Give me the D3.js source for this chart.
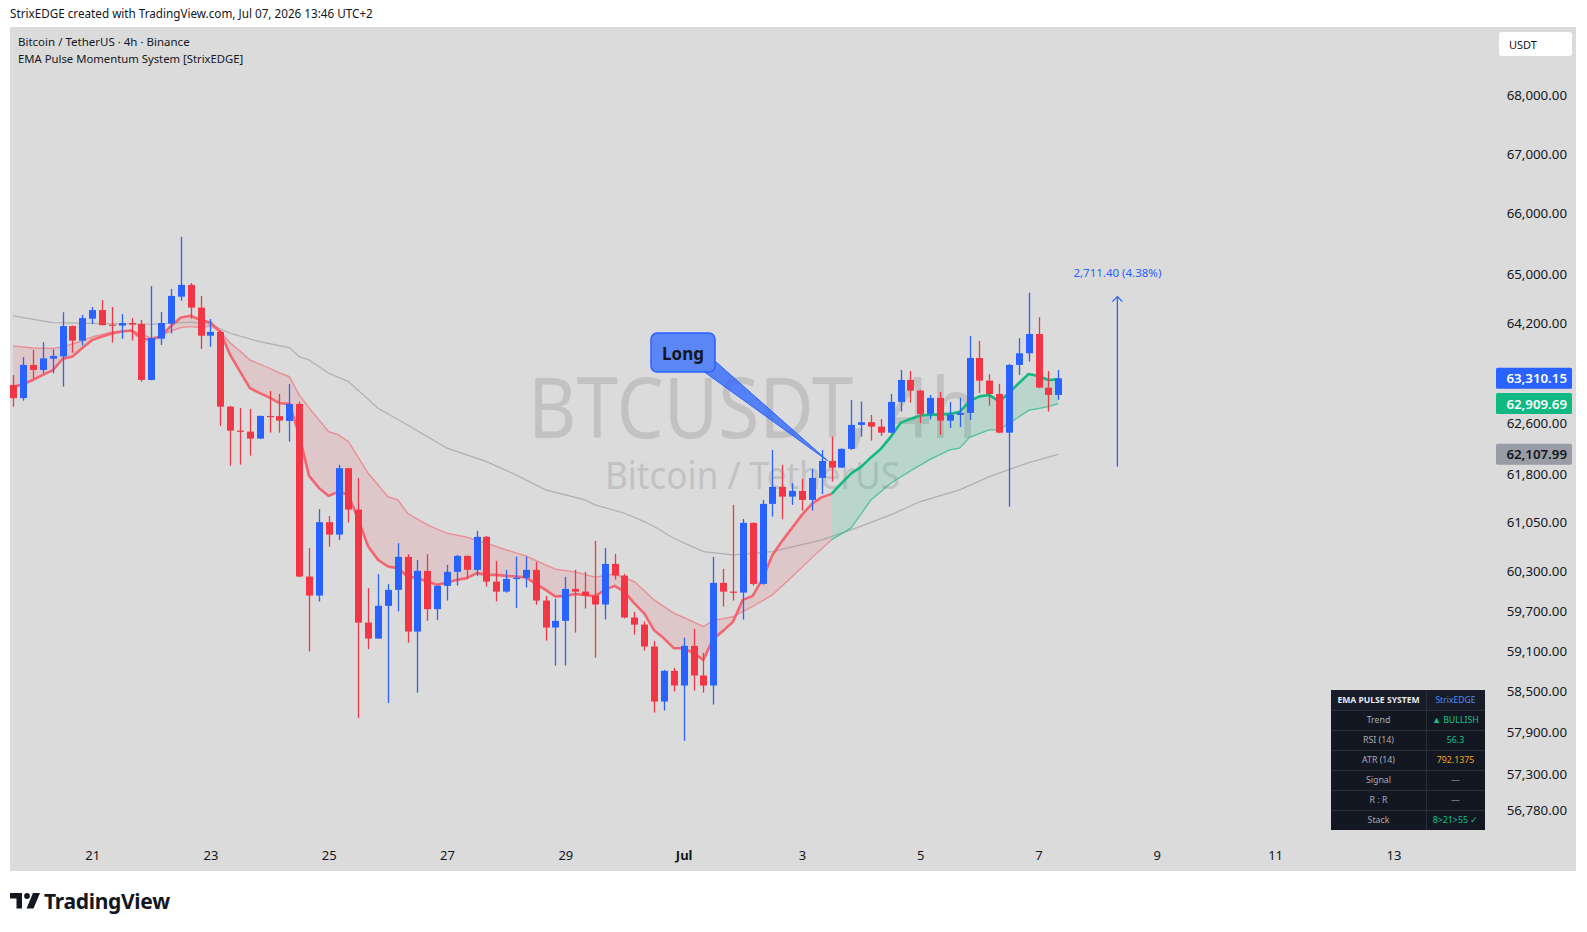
<!DOCTYPE html>
<html><head><meta charset="utf-8">
<script src="https://cdn.jsdelivr.net/npm/d3@7"></script>
<style>
html,body{margin:0;padding:0;background:#fff;}
svg{display:block;}
text{font-family:"Noto Sans",sans-serif;}
</style></head><body>
<svg id="c" width="1587" height="932"></svg>
<script>
// ---------------- DATA ----------------
const barStart = "2026-06-19T16:00:00Z"; // first 4h bar (UTC)
const open  = [63205,62995,63525,63445,63625,63660,64150,63915,64270,64410,64175,64158,64200,64185,63285,63947,64190,64628,64820,64450,63995,64056,62860,62481,62465,62355,62713,62710,62634,62903,60223,59935,61055,60864,61892,61249,59528,59289,59780,60021,60523,59394,60310,59730,60082,60295,60538,60325,60829,60147,59995,60188,60203,60325,59860,59454,59554,60036,59995,59935,59800,60416,60238,59604,59498,59170,58355,58808,58591,59180,58739,58591,60128,59995,59980,61044,60112,61337,61600,61450,61538,61399,61740,62005,61901,62194,62571,62614,62544,62449,62935,63285,63115,62745,62999,62639,62729,62761,63637,63274,63062,62449,63525,63712,64023,63162,63046];
const high  = [63365,63650,63765,63890,63775,64375,64160,64330,64460,64575,64460,64345,64280,64250,64800,64380,64755,65610,64850,64640,64265,64085,62872,62840,62824,62718,63110,63062,63221,62940,60656,61255,61152,61943,61898,61740,60047,60260,60108,60733,60564,60477,60564,60085,60401,60553,60545,60921,60844,60462,60325,60527,60527,60447,59930,59885,60219,60325,60295,60768,60661,60569,60264,59690,59544,59254,58823,58853,59303,59434,59075,60523,60340,61322,61105,61050,61399,62178,61943,61658,61725,61880,62178,62387,62200,62967,62940,62729,62666,63062,63445,63429,63126,63046,63094,62935,62999,63990,63910,63376,63221,63541,63953,64692,64294,63429,63445];
const low   = [62860,62955,63300,63390,63390,63180,63720,63835,64185,64160,63885,63945,63915,63258,63280,63845,64030,64563,64270,63780,63818,62555,61932,61948,62089,62350,62449,62449,62308,60215,59095,59845,60681,60783,61049,58111,59130,59285,58332,59695,59229,58487,59554,59565,59860,60087,60188,60234,60072,59845,59980,59745,60056,59795,59259,58886,58886,59379,59740,59005,59574,60178,59589,59349,59110,58193,58223,58502,57780,58517,58487,58311,59770,59860,59574,60087,60100,61141,61101,61322,61233,61233,61488,61683,61895,62175,62387,62324,62398,62440,62781,62924,62598,62658,62413,62523,62539,62650,63078,62876,62440,61295,63365,63578,63155,62781,62967];
const close = [62995,63525,63445,63630,63670,64150,63915,64280,64410,64165,64158,64200,64175,63285,63958,64200,64640,64820,64450,63995,64056,62860,62481,62465,62355,62713,62697,62639,62903,60223,59935,61055,60864,61892,61249,59528,59289,59780,60021,60523,59394,60310,59730,60082,60295,60538,60325,60829,60147,59995,60188,60203,60325,59860,59454,59554,60036,59995,59935,59800,60416,60238,59604,59498,59170,58355,58808,58591,59180,58739,58591,60128,59995,59980,61044,60112,61337,61600,61450,61538,61399,61740,62005,61901,62194,62571,62614,62544,62449,62935,63285,63115,62745,62999,62639,62729,62761,63637,63274,63062,62449,63525,63712,64023,63162,63046,63310.15];

// EMA 8 (fast), one value per bar
const emaFast = [63174,63221,63285,63365,63437,63621,63661,63797,63926,63982,64031,64064,64080,63950,63926,63991,64153,64290,64318,64247,64210,64056,63685,63418,63153,63074,63004,62915,62904,62413,61771,61585,61461,61528,61476,61090,60681,60477,60376,60351,60223,60199,60147,60097,60132,60173,60199,60275,60249,60249,60234,60223,60211,60112,60021,59920,59930,59960,59945,59923,60021,60082,59991,59818,59667,59415,59292,59145,59145,59071,58971,59284,59404,59539,59870,59930,60188,60553,60768,60967,61167,61337,61438,61492,61655,61810,61912,62060,62194,62382,62603,62666,62721,62729,62737,62745,62777,62943,63023,63046,62943,63078,63233,63381,63349,63285,63296];
// EMA 21 (slow), sampled bars
const emaSlowBar = [0,2,4,5,7,8,10,12,13,14,15,16,17,18,19,20,21,22,23,24,26,27,28,29,30,32,33,34,36,38,39,40,42,44,46,48,50,52,54,55,57,59,61,63,65,67,69,70,71,73,75,77,79,81,83,85,87,89,91,93,95,96,97,99,100,101,103,105,106];
const emaSlow    = [63830,63797,63792,63816,63910,63975,64056,64080,64023,63958,63999,64069,64124,64142,64121,64153,64061,63878,63749,63605,63472,63397,63338,63046,62840,62465,62413,62308,61813,61450,61399,61193,61013,60885,60824,60732,60630,60538,60401,60336,60295,60214,60264,60147,59870,59670,59539,59469,59559,59619,59770,59945,60219,60508,60783,60967,61399,61657,61849,62029,62178,62205,62374,62492,62492,62595,62800,62860,62909.69];
// EMA 55 (gray), sampled bars
const emaLongBar = [0,4,9,14,18,20,22,25,28,29,30,32,34,37,40,44,48,51,54,58,59,62,64,65,67,70,73,77,82,85,89,92,96,99,103,106];
const emaLong    = [64315,64206,64190,64180,64213,64180,64034,63899,63802,63658,63605,63392,63258,62835,62571,62205,61995,61787,61554,61399,61322,61193,61064,60987,60809,60604,60553,60604,60783,60936,61167,61373,61554,61761,61979,62107.99];
const trendSwitchBar = 83; // red -> green

const priceTicks = [68000,67000,66000,65000,64200,63400,62600,61800,61050,60300,59700,59100,58500,57900,57300,56780];
const dateTicks = ["2026-06-21","2026-06-23","2026-06-25","2026-06-27","2026-06-29","2026-07-01","2026-07-03","2026-07-05","2026-07-07","2026-07-09","2026-07-11","2026-07-13"];

const signalBar = 83, signalPrice = 62010, signalText = "Long";
const measureBar = 112, measureFrom = 61917, measureTo = 64628.4, measureText = "2,711.40 (4.38%)";

const lastPrices = [
  {v:63310.15, bg:"#2962ff", fg:"#ffffff"},
  {v:62909.69, bg:"#10b981", fg:"#ffffff"},
  {v:62107.99, bg:"#9a9ca5", fg:"#131722"}
];
const tableHead = ["EMA PULSE SYSTEM","StrixEDGE"];
const tableLabels = ["Trend","RSI (14)","ATR (14)","Signal","R : R","Stack"];
const tableValues = ["▲ BULLISH","56.3","792.1375","—","—","8>21>55 ✓"];
const tableColors = ["#12c48b","#12c48b","#f5a623","#b2b5be","#b2b5be","#12c48b"];

// ---------------- CHART ----------------
const W=1587,H=932;
const BLUE="#2962ff", RED="#f23645", GREEN="#10b981";
const svg=d3.select("#c");
svg.append("rect").attr("width",W).attr("height",H).attr("fill","#fff");
svg.append("rect").attr("x",10).attr("y",27).attr("width",1566).attr("height",844).attr("fill","#dbdbdb");

const HOUR=3600e3, t0=new Date(barStart).getTime();
const tAt = i => new Date(t0 + i*4*HOUR);
const x = d3.scaleUtc().domain([tAt(0), tAt(140)]).range([13.3, 13.3+140*9.858]);
const y = d3.scaleLog().domain([56780,68000]).range([810,95]);

svg.append("defs").append("clipPath").attr("id","plot")
  .append("rect").attr("x",10).attr("y",27).attr("width",1480).attr("height",812);
const plot = svg.append("g").attr("clip-path","url(#plot)");

// watermark
plot.append("text").attr("x",528).attr("y",438).attr("font-size",84)
  .attr("textLength",449).attr("lengthAdjust","spacingAndGlyphs")
  .attr("fill","#c2c2c3").text("BTCUSDT, 4h");
plot.append("text").attr("x",605).attr("y",489).attr("font-size",38)
  .attr("textLength",295).attr("lengthAdjust","spacingAndGlyphs")
  .attr("fill","#c2c2c3").text("Bitcoin / TetherUS");

const fastPts = emaFast.map((v,i)=>[i,v]);
const slowPts = emaSlow.map((v,k)=>[emaSlowBar[k],v]);
const longPts = emaLong.map((v,k)=>[emaLongBar[k],v]);
const line = d3.line().x(d=>x(tAt(d[0]))).y(d=>y(d[1]));

const fastRed = fastPts.filter(d=>d[0]<=trendSwitchBar), fastGreen = fastPts.filter(d=>d[0]>=trendSwitchBar);
const slowRed = slowPts.filter(d=>d[0]<=trendSwitchBar), slowGreen = slowPts.filter(d=>d[0]>=trendSwitchBar);

plot.append("path").attr("d", line(fastRed.concat(slowRed.slice().reverse()))+"Z")
  .attr("fill","rgba(242,54,69,0.12)");
plot.append("path").attr("d", line(fastGreen.concat(slowGreen.slice().reverse()))+"Z")
  .attr("fill","rgba(16,185,129,0.17)");

plot.append("path").attr("d",line(longPts)).attr("fill","none").attr("stroke","rgba(140,140,145,0.55)").attr("stroke-width",1.2);
plot.append("path").attr("d",line(slowRed)).attr("fill","none").attr("stroke","rgba(247,82,95,0.55)").attr("stroke-width",1.3);
plot.append("path").attr("d",line(slowGreen)).attr("fill","none").attr("stroke","rgba(16,185,129,0.65)").attr("stroke-width",1.3);
plot.append("path").attr("d",line(fastRed)).attr("fill","none").attr("stroke","rgba(247,82,95,0.85)").attr("stroke-width",2.6).attr("stroke-linejoin","round");
plot.append("path").attr("d",line(fastGreen)).attr("fill","none").attr("stroke","#12b981").attr("stroke-width",2.6).attr("stroke-linejoin","round");

// candles
const cg = plot.append("g");
open.forEach((o,i)=>{
  const c=close[i], col = c>=o?BLUE:RED, cx=Math.round(x(tAt(i)))+0.5;
  cg.append("line").attr("x1",cx).attr("x2",cx).attr("y1",y(high[i])).attr("y2",y(low[i])).attr("stroke",col).attr("stroke-width",1.3);
  const top=y(Math.max(o,c)), bot=y(Math.min(o,c));
  cg.append("rect").attr("x",cx-3.5).attr("width",7).attr("y",top).attr("height",Math.max(1.2,bot-top)).attr("fill",col);
});

// Long callout
const sx = x(tAt(signalBar))-4, sy = y(signalPrice);
plot.append("path").attr("d",`M703,371 L715,361 L${sx},${sy} Z`).attr("fill","rgba(41,98,255,0.75)").attr("stroke","#2962ff").attr("stroke-width",1);
plot.append("rect").attr("x",651).attr("y",333).attr("width",64).attr("height",39).attr("rx",6)
  .attr("fill","#5b86f6").attr("stroke","#2962ff").attr("stroke-width",1.5);
plot.append("text").attr("x",683).attr("y",353).attr("text-anchor","middle").attr("dominant-baseline","central")
  .attr("font-size",17).attr("font-weight",700).attr("fill","#131722").text(signalText);

// measure arrow
const mx = x(tAt(measureBar));
plot.append("line").attr("x1",mx).attr("x2",mx).attr("y1",y(measureFrom)).attr("y2",y(measureTo)).attr("stroke",BLUE).attr("stroke-width",1.3);
plot.append("path").attr("d",`M${mx-5},${y(measureTo)+5} L${mx},${y(measureTo)} L${mx+5},${y(measureTo)+5}`).attr("fill","none").attr("stroke",BLUE).attr("stroke-width",1.3);
plot.append("text").attr("x",mx).attr("y",y(measureTo)-24).attr("text-anchor","middle").attr("dominant-baseline","central")
  .attr("font-size",11.5).attr("fill",BLUE).text(measureText);

// table
const tg = svg.append("g");
const tx=1331, ty=690, c1=95, c2=59, rh=20;
tg.append("rect").attr("x",tx).attr("y",ty).attr("width",c1+c2).attr("height",rh*7).attr("fill","#131722");
tg.append("rect").attr("x",tx).attr("y",ty).attr("width",c1+c2).attr("height",rh).attr("fill","#171c28");
for(let r=1;r<7;r++) tg.append("line").attr("x1",tx).attr("x2",tx+c1+c2).attr("y1",ty+r*rh+0.5).attr("y2",ty+r*rh+0.5).attr("stroke","#2a2e39");
tg.append("line").attr("x1",tx+c1+0.5).attr("x2",tx+c1+0.5).attr("y1",ty).attr("y2",ty+rh*7).attr("stroke","#2a2e39");
tg.append("text").attr("x",tx+c1/2).attr("y",ty+rh/2).attr("text-anchor","middle").attr("dominant-baseline","central")
  .attr("font-size",8.6).attr("font-weight",700).attr("fill","#e8eaf0").text(tableHead[0]);
tg.append("text").attr("x",tx+c1+c2/2).attr("y",ty+rh/2).attr("text-anchor","middle").attr("dominant-baseline","central")
  .attr("font-size",8.6).attr("fill","#4d8dff").text(tableHead[1]);
tableLabels.forEach((l,r)=>{
  const cy=ty+(r+1)*rh+rh/2;
  tg.append("text").attr("x",tx+c1/2).attr("y",cy).attr("text-anchor","middle").attr("dominant-baseline","central")
    .attr("font-size",8.8).attr("fill","#a9acb5").text(l);
  tg.append("text").attr("x",tx+c1+c2/2).attr("y",cy).attr("text-anchor","middle").attr("dominant-baseline","central")
    .attr("font-size",8.8).attr("fill",tableColors[r]).text(tableValues[r]);
});

// price axis
const ya = svg.append("g").attr("transform","translate(1567,0)")
  .call(d3.axisLeft(y).tickValues(priceTicks).tickFormat(d3.format(",.2f")).tickSize(0).tickPadding(0));
ya.select(".domain").remove();
ya.selectAll("text").attr("font-family","Noto Sans").attr("font-size",13.3).attr("fill","#131722");

lastPrices.forEach(p=>{
  const py=y(p.v);
  svg.append("rect").attr("x",1496).attr("y",py-10.5).attr("width",76).attr("height",21).attr("rx",1.5).attr("fill",p.bg);
  svg.append("text").attr("x",1567).attr("y",py).attr("text-anchor","end").attr("dominant-baseline","central")
    .attr("font-size",13.3).attr("font-weight",600).attr("fill",p.fg).text(d3.format(",.2f")(p.v));
});

// USDT box
svg.append("rect").attr("x",1499).attr("y",32).attr("width",73).attr("height",24).attr("rx",3).attr("fill","#fff");
svg.append("text").attr("x",1509).attr("y",44.5).attr("dominant-baseline","central").attr("font-size",11).attr("fill","#131722").text("USDT");

// time axis
const xa = svg.append("g").attr("transform","translate(0,851)")
  .call(d3.axisBottom(x).tickValues(dateTicks.map(d=>new Date(d+"T00:00:00Z")))
    .tickFormat(d=>d.getUTCDate()===1?d3.utcFormat("%b")(d):String(d.getUTCDate())).tickSize(0).tickPadding(0));
xa.select(".domain").remove();
xa.selectAll("text").attr("font-family","Noto Sans").attr("font-size",13).attr("fill","#131722")
  .attr("font-weight",d=>d.getUTCDate()===1?700:400);

// header + legend
svg.append("text").attr("x",10).attr("y",17.5).attr("font-size",11.7).attr("fill","#131722")
  .text("StrixEDGE created with TradingView.com, Jul 07, 2026 13:46 UTC+2");
svg.append("text").attr("x",18).attr("y",46).attr("font-size",11.5).attr("fill","#131722").text("Bitcoin / TetherUS · 4h · Binance");
svg.append("text").attr("x",18).attr("y",63).attr("font-size",11.3).attr("fill","#131722").text("EMA Pulse Momentum System [StrixEDGE]");

// TradingView logo
const lg = svg.append("g").attr("fill","#131722");
lg.append("path").attr("d","M10,893 H22 V908.5 H16.5 V898.5 H10 Z");
lg.append("circle").attr("cx",27).attr("cy",896).attr("r",2.9);
lg.append("path").attr("d","M33,893 H40 L33.5,908.5 H26.5 Z");
svg.append("text").attr("x",44).attr("y",908.5).attr("font-size",21).attr("font-weight",700).attr("letter-spacing",-0.3).attr("fill","#131722").text("TradingView");
</script>
</body></html>
